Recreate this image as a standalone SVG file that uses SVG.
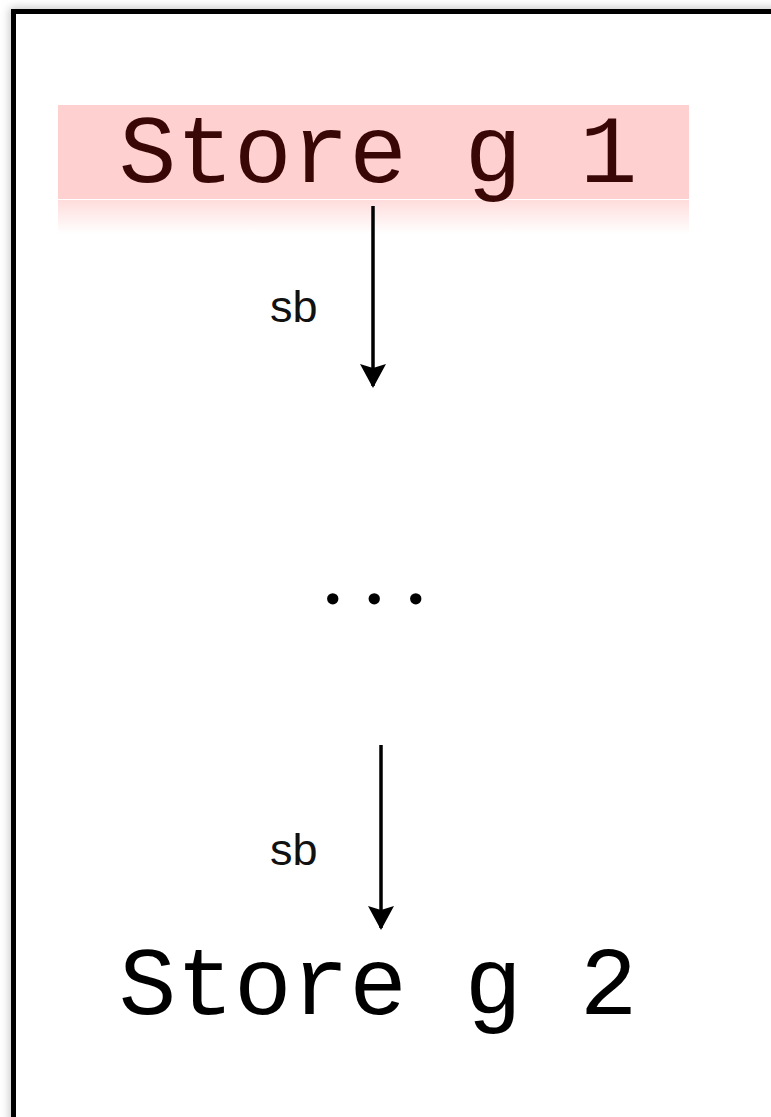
<svg xmlns="http://www.w3.org/2000/svg" width="771" height="1117" viewBox="0 0 771 1117">
  <style>
    .code { font-family: "Liberation Mono", "Courier New", monospace; font-size: 96px; }
    .dots { font-family: "Liberation Serif", "Times New Roman", serif; font-size: 70px; font-weight: bold; letter-spacing: 24px; fill: #000; }
    .lbl { font-family: "Liberation Sans", Arial, sans-serif; font-size: 45px; fill: #111; }
    .edge { stroke: #000; stroke-width: 3.5; fill: none; }
  </style>
  <defs>
    <filter id="shadow" x="-20%" y="-20%" width="140%" height="140%">
      <feGaussianBlur stdDeviation="5"/>
    </filter>
    <linearGradient id="fade" x1="0" y1="0" x2="0" y2="1">
      <stop offset="0" stop-color="#ffdcdc"/>
      <stop offset="1" stop-color="#ffffff"/>
    </linearGradient>
    <marker id="arrow" viewBox="0 0 24 26" refX="22" refY="13" markerWidth="24" markerHeight="26" markerUnits="userSpaceOnUse" orient="auto">
      <path d="M0,0 L24,13 L0,26 L4,13 Z" fill="#000"/>
    </marker>
  </defs>
  <rect width="771" height="1117" fill="#ffffff"/>
  <g id="frame">
    <rect x="13.5" y="11.5" width="800" height="1150" fill="none" stroke="#b0b0b0" stroke-width="6" filter="url(#shadow)"/>
    <rect x="13.5" y="11.5" width="800" height="1150" fill="#ffffff" stroke="#000" stroke-width="5"/>
  </g>
  <g id="store1">
    <rect x="58" y="105" width="631" height="94" fill="#ffd0d0"/>
    <rect x="58" y="200" width="631" height="34" fill="url(#fade)"/>
    <text class="code" x="378" y="182" text-anchor="middle" fill="#3a0707">Store g 1</text>
  </g>
  <g id="ellipsis">
    <text class="dots" x="324" y="604">...</text>
  </g>
  <g id="store2">
    <text class="code" x="378" y="1014" text-anchor="middle" fill="#000">Store g 2</text>
  </g>
  <g id="connectors">
    <line class="edge" x1="373" y1="206" x2="373" y2="386" marker-end="url(#arrow)"/>
    <text class="lbl" x="270" y="322">sb</text>
    <line class="edge" x1="381" y1="745" x2="381" y2="928" marker-end="url(#arrow)"/>
    <text class="lbl" x="270" y="865">sb</text>
  </g>
</svg>
